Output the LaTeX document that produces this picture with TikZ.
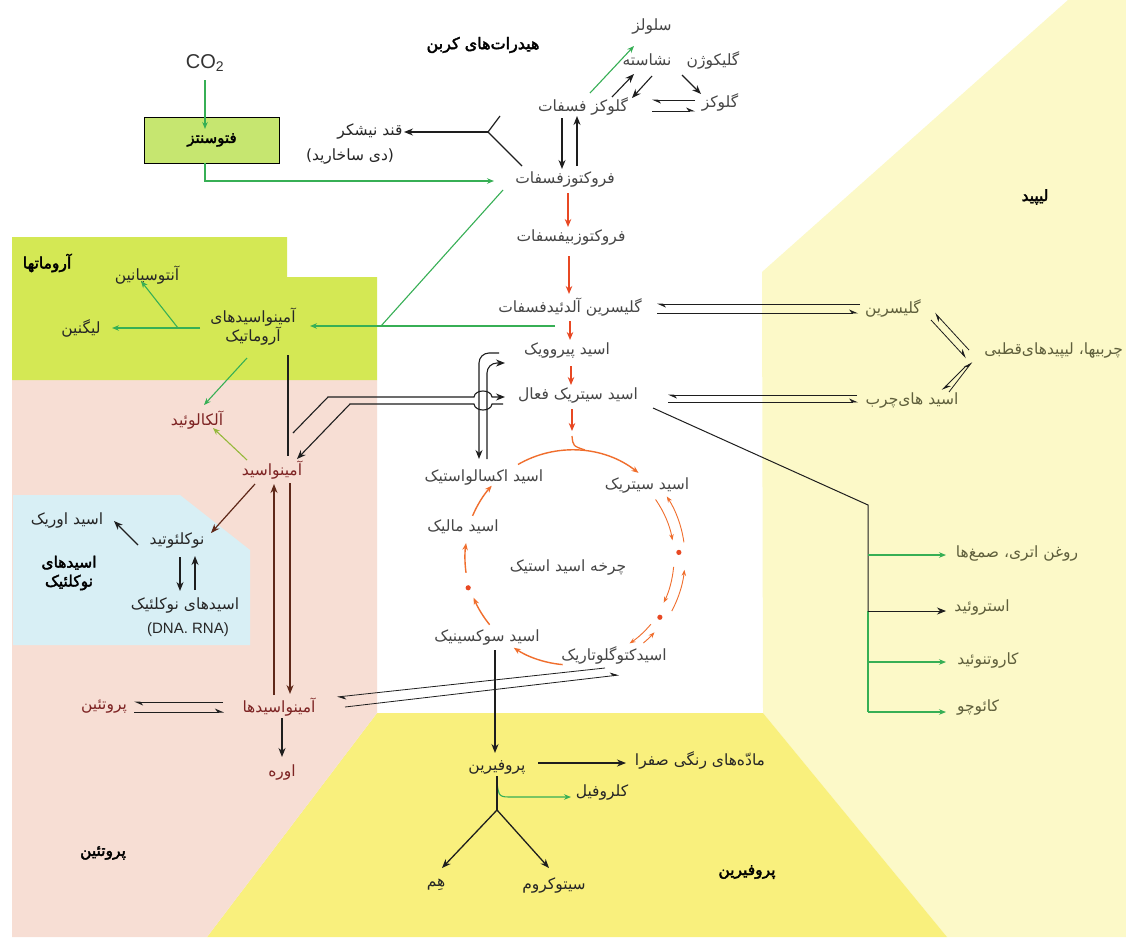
\documentclass[tikz,border=0pt]{standalone}
\usepackage{fontspec}
\usetikzlibrary{arrows.meta,calc}
\TeXXeTstate=1
\newfontfamily\fafont[Script=Arabic]{DejaVu Sans}
\newfontfamily\fabold[Script=Arabic,FakeBold=2.5]{DejaVu Sans}
\newfontfamily\latfont{Liberation Sans}
\newcommand{\fatx}[1]{\beginR #1\endR}
\definecolor{pinkbg}{RGB}{247,222,212}
\definecolor{greenbg}{RGB}{212,232,84}
\definecolor{bluebg}{RGB}{216,239,245}
\definecolor{paley}{RGB}{252,249,200}
\definecolor{brighty}{RGB}{249,240,125}
\definecolor{fotofill}{RGB}{198,230,112}
\definecolor{txtgray}{RGB}{70,70,70}
\definecolor{txtred}{RGB}{125,35,35}
\definecolor{txtolive}{RGB}{95,95,60}
\definecolor{arrgreen}{RGB}{55,175,85}
\definecolor{arryg}{RGB}{150,185,60}
\definecolor{arrred}{RGB}{232,72,35}
\definecolor{arrorange}{RGB}{240,110,45}
\definecolor{arrbrown}{RGB}{95,40,25}
\definecolor{lineblack}{RGB}{30,30,30}
\tikzset{
 lab/.style={font=\fafont\fontsize{15.5}{19}\selectfont, text=txtgray, inner sep=1pt, align=center},
 blab/.style={font=\fabold\fontsize{15.5}{19}\selectfont, text=black, inner sep=1pt, align=center},
 redlab/.style={lab, text=txtred},
 olab/.style={lab, text=txtolive},
 dlab/.style={lab, text=black!85},
 blk/.style={draw=lineblack, line width=1.3pt, -{Stealth[length=9pt,width=7pt]}},
 blkline/.style={draw=lineblack, line width=1.3pt},
 brn/.style={draw=arrbrown, line width=1.3pt, -{Stealth[length=9pt,width=7pt]}},
 grn/.style={draw=arrgreen, line width=1.1pt, -{Stealth[length=7pt,width=5.5pt]}},
 grnline/.style={draw=arrgreen, line width=1.1pt},
 yg/.style={draw=arryg, line width=1.1pt, -{Stealth[length=7pt,width=5.5pt]}},
 redarr/.style={draw=arrred, line width=1.4pt, -{Stealth[length=8pt,width=6.5pt]}},
 cyc/.style={draw=arrorange, line width=1.4pt, -{Stealth[length=7pt,width=5.5pt]}},
 cycthin/.style={draw=arrorange, line width=0.9pt, -{Stealth[length=6pt,width=4.5pt]}},
 harp/.style={draw=lineblack, line width=0.8pt, -{Stealth[harpoon,length=8pt,width=7pt]}},
}
\begin{document}
\begin{tikzpicture}[x=1pt,y=-1pt]
\useasboundingbox (0,0) rectangle (1126,937);
% backgrounds
\fill[white] (0,0) rectangle (1126,937);
\fill[paley] (762,272) -- (1068,0) -- (1126,0) -- (1126,937) -- (947,937) -- (763,713) -- cycle;
\fill[brighty] (377,713) -- (763,713) -- (947,937) -- (207,937) -- cycle;
\fill[pinkbg] (12,380) -- (377,380) -- (377,713) -- (207,937) -- (12,937) -- cycle;
\fill[greenbg] (12,237) -- (287,237) -- (287,277) -- (377,277) -- (377,380) -- (12,380) -- cycle;
\fill[bluebg] (13,495) -- (180,495) -- (250,550) -- (250,645) -- (13,645) -- cycle;

% region labels
\node[blab, font=\fabold\fontsize{16}{19}\selectfont] (title) at (483,45) {\fatx{هیدرات^^^^200cهای کربن}};
\node[blab] (lipidlab) at (1035,197) {\fatx{لیپید}};
\node[blab] (arolab) at (47,263) {\fatx{آروماتها}};
\node[blab] (nuclab) at (69,573) {\fatx{اسیدهای}\\\fatx{نوکلئیک}};
\node[blab] (protlab) at (103,853) {\fatx{پروتئین}};
\node[blab] (porphlab) at (747,872) {\fatx{پروفیرین}};

% carbohydrate nodes
\node[lab] (cell) at (652,27) {\fatx{سلولز}};
\node[lab] (starch) at (647,60) {\fatx{نشاسته}};
\node[lab] (glycogen) at (713,60) {\fatx{گلیکوژن}};
\node[lab] (glucose) at (720,102) {\fatx{گلوکز}};
\node[lab] (gp) at (583,106) {\fatx{گلوکز فسفات}};
\node[dlab] (sucrose) at (370,132) {\fatx{قند نیشکر}};
\node[dlab] (disac) at (350,157) {\fatx{\hbox{(}دی ساخارید\hbox{)}}};
\node[font=\latfont\fontsize{20}{24}\selectfont, text=black!80, inner sep=1pt] (co2) at (205,63) {CO\textsubscript{2}};
\node[draw=black, line width=1pt, fill=fotofill, minimum width=135pt, minimum height=46pt, inner sep=0pt, font=\fabold\fontsize{15}{18}\selectfont] (foto) at (212,140) {\fatx{فتوسنتز}};
\node[lab] (fp) at (565,180) {\fatx{فروکتوزفسفات}};
\node[lab] (fbp) at (571,237) {\fatx{فروکتوزبیفسفات}};
\node[lab] (gap) at (570,307) {\fatx{گلیسرین آلدئیدفسفات}};
\node[lab] (pyr) at (567,350) {\fatx{اسید پیروویک}};
\node[lab] (acc) at (578,395) {\fatx{اسید سیتریک فعال}};

% lipid nodes
\node[olab] (glycerin) at (893,308) {\fatx{گلیسرین}};
\node[olab, anchor=east] (fats) at (1124,350) {\fatx{چربیها، لیپیدهای^^^^200cقطبی}};
\node[olab] (fatty) at (912,400) {\fatx{اسید های^^^^200cچرب}};
\node[olab] (oils) at (1017,553) {\fatx{روغن اتری، صمغ^^^^200cها}};
\node[olab] (steroid) at (982,607) {\fatx{استروئید}};
\node[olab] (carot) at (988,660) {\fatx{کاروتنوئید}};
\node[olab] (rubber) at (978,707) {\fatx{کائوچو}};

% aromatic nodes
\node[dlab] (antho) at (147,275) {\fatx{آنتوسیانین}};
\node[dlab] (aroaa) at (253,327) {\fatx{آمینواسیدهای}\\\fatx{آروماتیک}};
\node[dlab] (lignin) at (81,328) {\fatx{لیگنین}};
\node[redlab] (alk) at (197,420) {\fatx{آلکالوئید}};
\node[redlab] (aa) at (272,470) {\fatx{آمینواسید}};
\node[dlab] (uric) at (67,520) {\fatx{اسید اوریک}};
\node[dlab] (nucl) at (177,540) {\fatx{نوکلئوتید}};
\node[dlab] (nucacid) at (185,605) {\fatx{اسیدهای نوکلئیک}};
\node[font=\latfont\fontsize{15}{18}\selectfont, text=black!85, inner sep=1pt] (dnarna) at (188,630) {(DNA. RNA)};
\node[redlab] (aas) at (279,707) {\fatx{آمینواسیدها}};
\node[redlab] (prot) at (104,707) {\fatx{پروتئین}};
\node[redlab] (urea) at (282,772) {\fatx{اوره}};

% cycle nodes
\node[lab] (oaa) at (484,477) {\fatx{اسید اکسالواستیک}};
\node[lab] (cit) at (647,485) {\fatx{اسید سیتریک}};
\node[lab] (mal) at (463,527) {\fatx{اسید مالیک}};
\node[lab] (tca) at (568,567) {\fatx{چرخه اسید استیک}};
\node[lab] (succ) at (487,637) {\fatx{اسید سوکسینیک}};
\node[lab] (akg) at (614,655) {\fatx{اسیدکتوگلوتاریک}};

% porphyrin nodes
\node[dlab] (porph) at (497,767) {\fatx{پروفیرین}};
\node[dlab] (bile) at (700,760) {\fatx{مادّه^^^^200cهای رنگی صفرا}};
\node[dlab] (chloro) at (602,792) {\fatx{کلروفیل}};
\node[dlab] (heme) at (436,885) {\fatx{هِم}};
\node[dlab] (cyto) at (554,885) {\fatx{سیتوکروم}};

% ---------- connectors ----------
% photosynthesis
\coordinate (co2b) at (205,80); \coordinate (fotoin) at (205,129);
\draw[grn] (co2b) -- (fotoin);
\coordinate (fotob) at (205,163); \coordinate (fotoc) at (205,181); \coordinate (fpin) at (494,181);
\draw[grn] (fotob) -- (fotoc) -- (fpin);
% sucrose Y
\coordinate (yj) at (488,132); \coordinate (ya) at (500,116); \coordinate (yb) at (522,166); \coordinate (suc) at (404,132);
\draw[blkline, line width=1.2pt] (ya) -- (yj) -- (yb);
\draw[blk] (yj) -- (suc);
% glucose phosphate <-> fructose phosphate
\coordinate (gpd1) at (562,118); \coordinate (gpd2) at (562,169);
\coordinate (gpu1) at (577,166); \coordinate (gpu2) at (577,116);
\draw[blk] (gpd1) -- (gpd2);
\draw[blk] (gpu1) -- (gpu2);
\coordinate (gpc1) at (590,93); \coordinate (gpc2) at (634,46);
\draw[grn] (gpc1) -- (gpc2);
\coordinate (gps1) at (612,97); \coordinate (gps2) at (634,74);
\draw[blk, line width=1.1pt] (gps1) -- (gps2);
\coordinate (sgp1) at (652,76); \coordinate (sgp2) at (632,98);
\draw[blk, line width=1.1pt] (sgp1) -- (sgp2);
\coordinate (gg1) at (682,75); \coordinate (gg2) at (701,94);
\draw[blk, line width=1.1pt] (gg1) -- (gg2);
\coordinate (glu1) at (695,100); \coordinate (glu2) at (652,100);
\coordinate (glu3) at (652,111); \coordinate (glu4) at (695,111);
\draw[harp] (glu1) -- (glu2);
\draw[harp] (glu3) -- (glu4);

% glycolysis red arrows
\coordinate (r1a) at (568,193); \coordinate (r1b) at (568,227);
\coordinate (r2a) at (569,256); \coordinate (r2b) at (569,294);
\coordinate (r3a) at (570,321); \coordinate (r3b) at (570,340);
\coordinate (r4a) at (571,366); \coordinate (r4b) at (571,385);
\coordinate (r5a) at (572,409); \coordinate (r5b) at (572,431);
\draw[redarr] (r1a) -- (r1b);
\draw[redarr] (r2a) -- (r2b);
\draw[redarr] (r3a) -- (r3b);
\draw[redarr] (r4a) -- (r4b);
\draw[redarr] (r5a) -- (r5b);

% green lines to aromatics
\coordinate (fpg) at (503,190); \coordinate (gj) at (381,326);
\coordinate (gapg) at (555,326); \coordinate (aroin) at (310,326);
\draw[grnline] (fpg) -- (gj);
\draw[grn] (gapg) -- (aroin);

% GAP <-> glycerin
\coordinate (gg3) at (860,304); \coordinate (gg4) at (657,304);
\coordinate (gg5) at (657,313); \coordinate (gg6) at (858,313);
\draw[harp] (gg3) -- (gg4);
\draw[harp] (gg5) -- (gg6);
% active citric <-> fatty acids
\coordinate (fa1) at (857,395); \coordinate (fa2) at (668,395);
\coordinate (fa3) at (668,402); \coordinate (fa4) at (858,402);
\draw[harp] (fa1) -- (fa2);
\draw[harp] (fa3) -- (fa4);
% glycerin <-> fats
\coordinate (gf1) at (969,350); \coordinate (gf2) at (935,313);
\coordinate (gf3) at (931,320); \coordinate (gf4) at (966,358);
\draw[harp] (gf1) -- (gf2);
\draw[harp] (gf3) -- (gf4);
% fatty acids <-> fats
\coordinate (ff1) at (966,366); \coordinate (ff2) at (942,390);
\coordinate (ff3) at (949,392); \coordinate (ff4) at (972,362);
\draw[harp] (ff1) -- (ff2);
\draw[harp] (ff3) -- (ff4);

% isoprenoid branch
\coordinate (ib0) at (653,408); \coordinate (ib1) at (868,505); \coordinate (ib2) at (868,611); \coordinate (ib3) at (868,712);
\draw[blkline, line width=1pt] (ib0) -- (ib1) -- (ib2);
\draw[grnline] (ib2) -- (ib3);
\coordinate (io1) at (868,555); \coordinate (io2) at (946,555);
\coordinate (is2) at (946,611);
\coordinate (ic1) at (868,662); \coordinate (ic2) at (946,662);
\coordinate (ir2) at (946,712);
\draw[grn] (io1) -- (io2);
\draw[blk, line width=1pt] (ib2) -- (is2);
\draw[grn] (ic1) -- (ic2);
\draw[grn] (ib3) -- (ir2);

% aromatics
\coordinate (al1) at (200,328); \coordinate (al2) at (112,328); \coordinate (ab1) at (178,328); \coordinate (ab2) at (141,281);
\draw[grn] (al1) -- (al2);
\draw[grn] (ab1) -- (ab2);
\coordinate (ak1) at (247,358); \coordinate (ak2) at (204,405);
\draw[grn] (ak1) -- (ak2);
\coordinate (ak3) at (247,460); \coordinate (ak4) at (213,428);
\draw[yg] (ak3) -- (ak4);
\coordinate (av1) at (288,355); \coordinate (av2) at (288,456);
\draw[blkline] (av1) -- (av2);

% amino acid <-> active citric acid, with hops
\coordinate (ac1) at (293,433); \coordinate (ac2) at (328,397); \coordinate (ac3) at (505,397);
\draw[blk, line width=1.1pt] (ac1) -- (ac2) -- (474,397) .. controls (475,389) and (491,389) .. (492,397) -- (ac3);
\coordinate (ca1) at (503,404); \coordinate (ca2) at (350,404); \coordinate (ca3) at (297,459);
\draw[blk, line width=1.1pt] (ca1) -- (492,404) .. controls (491,412) and (475,412) .. (474,404) -- (ca2) -- (ca3);
% pyruvic <-> oxaloacetic
\coordinate (po1) at (499,353); \coordinate (po2) at (479,459);
\draw[blk, line width=1.1pt] (po1) -- (489,353) arc[start angle=270, end angle=180, radius=10] -- (po2);
\coordinate (op1) at (487,459); \coordinate (op2) at (505,363);
\draw[blk, line width=1.1pt] (op1) -- (487,373) arc[start angle=180, end angle=270, radius=10] -- (op2);

% amino acid -> nucleotide etc.
\coordinate (an1) at (255,484); \coordinate (an2) at (211,533);
\draw[brn, line width=1.2pt] (an1) -- (an2);
\coordinate (nu1) at (138,545); \coordinate (nu2) at (114,521);
\draw[blk, line width=1.2pt] (nu1) -- (nu2);
\coordinate (nd1) at (180,557); \coordinate (nd2) at (180,591);
\coordinate (nd3) at (195,590); \coordinate (nd4) at (195,556);
\draw[blk] (nd1) -- (nd2);
\draw[blk] (nd3) -- (nd4);
% amino acid <-> amino acids
\coordinate (aa1) at (274,695); \coordinate (aa2) at (274,484);
\coordinate (aa3) at (290,483); \coordinate (aa4) at (290,694);
\draw[brn] (aa1) -- (aa2);
\draw[brn] (aa3) -- (aa4);
% protein <-> amino acids
\coordinate (pa1) at (223,702); \coordinate (pa2) at (134,702);
\coordinate (pa3) at (134,712); \coordinate (pa4) at (224,712);
\draw[harp, line width=1pt] (pa1) -- (pa2);
\draw[harp, line width=1pt] (pa3) -- (pa4);
% amino acids <-> ketoglutaric
\coordinate (ka1) at (605,668); \coordinate (ka2) at (337,697);
\coordinate (ka3) at (345,707); \coordinate (ka4) at (619,675);
\draw[harp] (ka1) -- (ka2);
\draw[harp] (ka3) -- (ka4);
% urea
\coordinate (ur1) at (282,718); \coordinate (ur2) at (282,757);
\draw[blk] (ur1) -- (ur2);

% TCA cycle
\coordinate (C) at (572,558);
\draw[cyc] ($(C)+(240:108)$) arc[start angle=240, end angle=308, radius=108];
\draw[draw=arrorange, line width=1.3pt] (572,436) .. controls (573,446) .. (585,450);
\draw[cycthin] ($(C)+(-35:102)$) arc[start angle=-35, end angle=-10, radius=102];
\draw[cycthin] ($(C)+(-8:113)$) arc[start angle=-8, end angle=-33, radius=113];
\fill[arrred] ($(C)+(-3:107)$) circle (2.6);
\draw[cycthin] ($(C)+(5:102)$) arc[start angle=5, end angle=26, radius=102];
\draw[cycthin] ($(C)+(28:113)$) arc[start angle=28, end angle=6, radius=113];
\fill[arrred] ($(C)+(34:106)$) circle (2.6);
\draw[cycthin] ($(C)+(40:103)$) arc[start angle=40, end angle=56, radius=103];
\draw[cycthin] ($(C)+(50:111)$) arc[start angle=50, end angle=42, radius=111];
\draw[cyc] ($(C)+(95:107)$) arc[start angle=95, end angle=123, radius=107];
\draw[cyc] ($(C)+(141:106)$) arc[start angle=141, end angle=158, radius=106];
\fill[arrred] ($(C)+(164:108)$) circle (2.6);
\draw[cyc] ($(C)+(172:107)$) arc[start angle=172, end angle=188, radius=107];
\draw[cyc] ($(C)+(203:108)$) arc[start angle=203, end angle=222, radius=108];

% porphyrin
\coordinate (sp1) at (495,650); \coordinate (sp2) at (495,753);
\draw[blk] (sp1) -- (sp2);
\coordinate (pb1) at (538,763); \coordinate (pb2) at (626,763);
\draw[blk] (pb1) -- (pb2);
\coordinate (pc1) at (497,783); \coordinate (pc2) at (571,797);
\draw[grn] (pc1) .. controls (499,797) .. (513,797) -- (pc2);
\coordinate (py0) at (497,776); \coordinate (py1) at (497,810);
\coordinate (ph) at (442,868); \coordinate (pcy) at (549,868);
\draw[blkline] (py0) -- (py1);
\draw[blk] (py1) -- (ph);
\draw[blk] (py1) -- (pcy);
\end{tikzpicture}
\end{document}
